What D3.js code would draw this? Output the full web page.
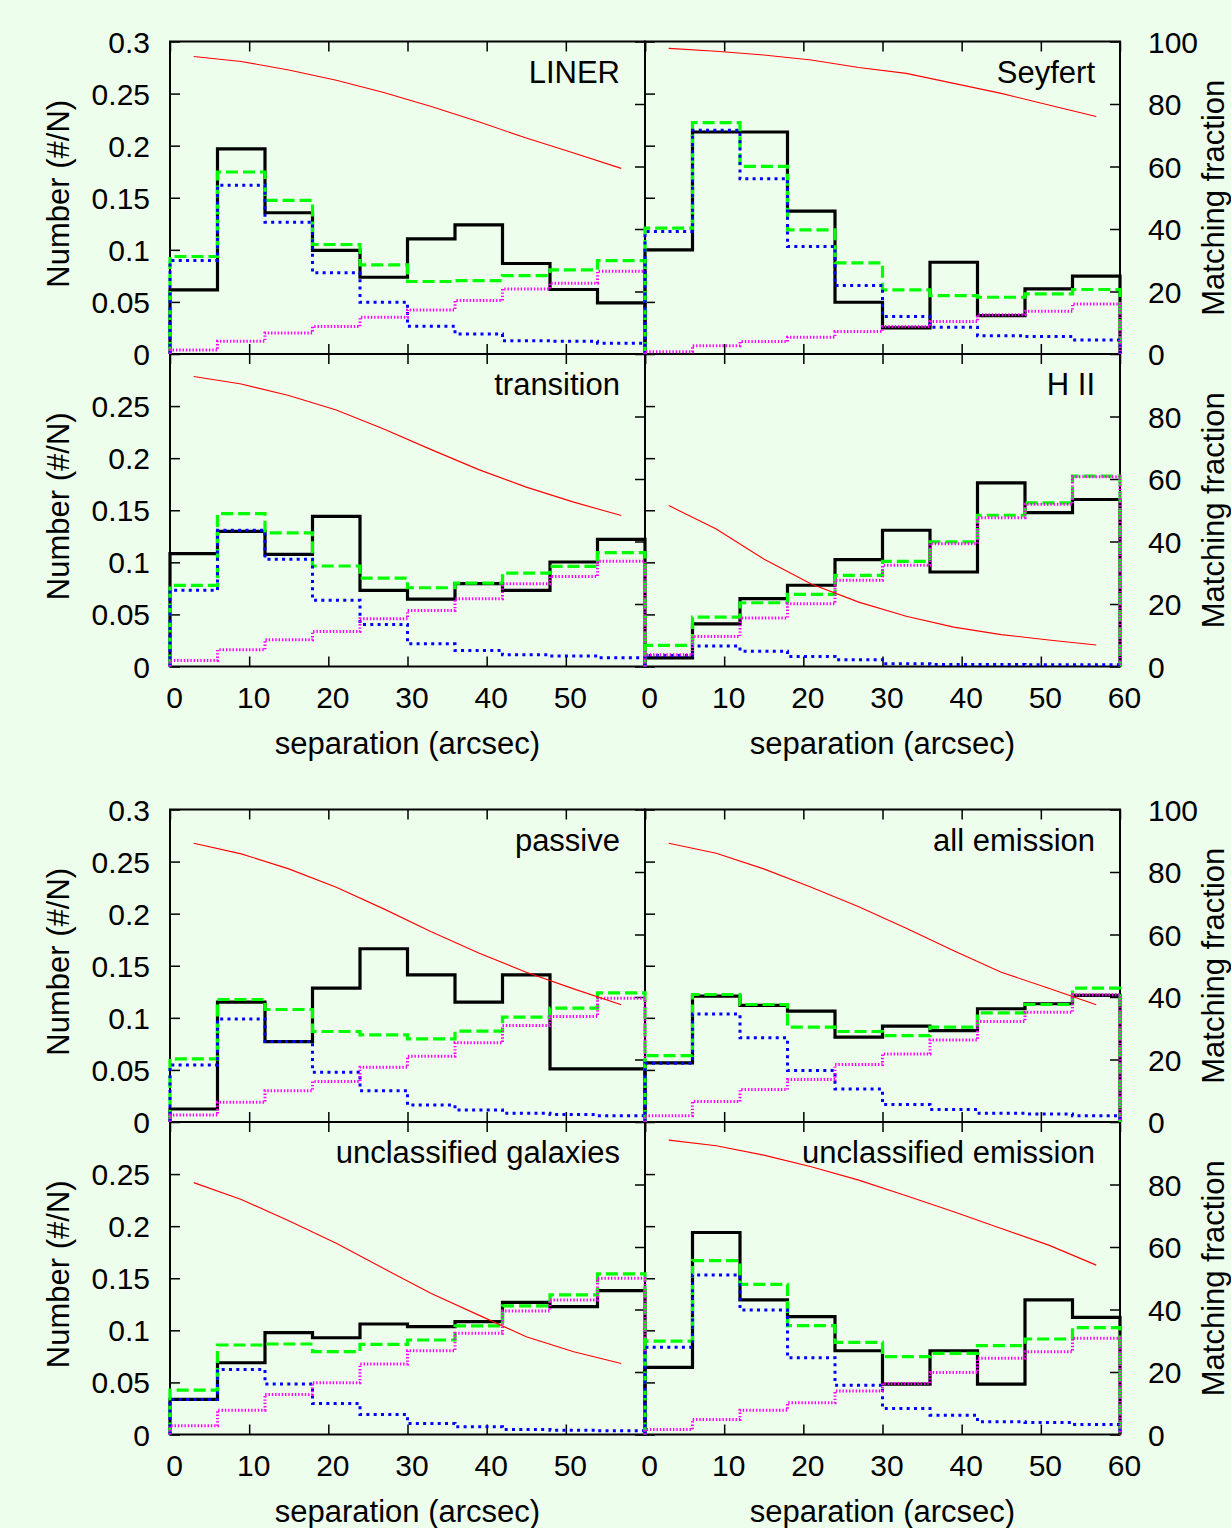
<!DOCTYPE html>
<html>
<head>
<meta charset="utf-8">
<script src="https://cdn.jsdelivr.net/npm/d3@7"></script>
<style>
  body { margin: 0; background: #edfeed; }
  svg text { font-family: "Liberation Sans", Arial, Helvetica, sans-serif; fill: #000; }
</style>
</head>
<body>
<script>
// panel titles, reading order: two blocks of 2x2 panels
var panelNames = ["LINER", "Seyfert", "transition", "H II",
                  "passive", "all emission", "unclassified galaxies", "unclassified emission"];

// histogram bins (arcsec) and the points of the matching fraction curve
var binEdges = [0, 6, 12, 18, 24, 30, 36, 42, 48, 54, 60];
var binCentres = [3, 9, 15, 21, 27, 33, 39, 45, 51, 57];

// tick values
var xTicks = [0, 10, 20, 30, 40, 50, 60];
var yTicksTop = [0, 0.05, 0.1, 0.15, 0.2, 0.25, 0.3];
var yTicksLower = [0, 0.05, 0.1, 0.15, 0.2, 0.25];
var fracTicksTop = [0, 20, 40, 60, 80, 100];
var fracTicksLower = [0, 20, 40, 60, 80];

// black solid histograms, one row per panel
var solidBlack = [
  [0.0615, 0.197, 0.1356, 0.0994, 0.0737, 0.1106, 0.124, 0.0869, 0.0619, 0.049],
  [0.1, 0.2131, 0.2131, 0.1372, 0.0497, 0.025, 0.0881, 0.0369, 0.0625, 0.0747],
  [0.1083, 0.1298, 0.1077, 0.1442, 0.0731, 0.0647, 0.0795, 0.0731, 0.1003, 0.1221],
  [0.0083, 0.041, 0.0651, 0.078, 0.1026, 0.1308, 0.0907, 0.1763, 0.1478, 0.1603],
  [0.0125, 0.1151, 0.0772, 0.1285, 0.1663, 0.1413, 0.1151, 0.1413, 0.051, 0.051],
  [0.0567, 0.1208, 0.1119, 0.1064, 0.0814, 0.092, 0.0878, 0.1087, 0.1135, 0.1215],
  [0.0337, 0.0689, 0.0978, 0.0929, 0.1061, 0.1035, 0.1083, 0.1269, 0.1228, 0.1381],
  [0.0644, 0.1939, 0.1292, 0.1131, 0.0804, 0.0484, 0.0804, 0.0484, 0.1292, 0.1125]
];

// green dashed
var dashedGreen = [
  [0.0936, 0.1747, 0.1474, 0.1051, 0.0856, 0.0696, 0.0705, 0.0753, 0.0808, 0.0897],
  [0.1208, 0.2221, 0.1801, 0.1192, 0.0875, 0.0615, 0.0561, 0.0545, 0.0577, 0.0619],
  [0.0779, 0.1468, 0.1282, 0.0965, 0.0849, 0.0756, 0.0801, 0.0897, 0.0962, 0.1093],
  [0.0202, 0.0474, 0.0612, 0.0692, 0.0875, 0.101, 0.1196, 0.1452, 0.157, 0.1827],
  [0.0606, 0.1176, 0.108, 0.0869, 0.0837, 0.0798, 0.0872, 0.1006, 0.1093, 0.124],
  [0.0638, 0.1224, 0.1128, 0.091, 0.0869, 0.083, 0.091, 0.1048, 0.1128, 0.1285],
  [0.0426, 0.0859, 0.0869, 0.0795, 0.0865, 0.0907, 0.1042, 0.1234, 0.134, 0.1542],
  [0.0897, 0.167, 0.1442, 0.1045, 0.0885, 0.0747, 0.0779, 0.0853, 0.0917, 0.1026]
];

// blue dotted
var dottedBlue = [
  [0.0897, 0.1619, 0.1266, 0.0779, 0.0497, 0.0266, 0.0192, 0.0128, 0.0122, 0.0103],
  [0.1176, 0.2147, 0.1683, 0.1032, 0.0657, 0.0359, 0.0256, 0.0176, 0.0167, 0.0135],
  [0.0731, 0.1308, 0.1029, 0.0635, 0.0404, 0.0218, 0.0154, 0.0112, 0.01, 0.0083],
  [0.0106, 0.0196, 0.0147, 0.0096, 0.0064, 0.0026, 0.002, 0.002, 0.0016, 0.0016],
  [0.0548, 0.099, 0.0772, 0.0478, 0.0301, 0.0163, 0.0115, 0.0083, 0.0071, 0.0061],
  [0.0564, 0.1038, 0.0808, 0.0494, 0.0317, 0.0167, 0.0119, 0.0083, 0.0077, 0.0061],
  [0.0337, 0.0625, 0.0484, 0.0298, 0.0192, 0.0106, 0.0074, 0.0048, 0.0042, 0.0035],
  [0.0837, 0.1532, 0.1196, 0.0737, 0.0474, 0.025, 0.0186, 0.0122, 0.0115, 0.0096]
];

// magenta fine dots
var dottedMagenta = [
  [0.0038, 0.0122, 0.0202, 0.0263, 0.0353, 0.0423, 0.0513, 0.0625, 0.068, 0.0795],
  [0.0022, 0.008, 0.0119, 0.016, 0.0215, 0.0263, 0.0311, 0.0378, 0.041, 0.0481],
  [0.0058, 0.016, 0.0256, 0.0337, 0.0458, 0.0538, 0.065, 0.0795, 0.0865, 0.101],
  [0.0112, 0.0288, 0.0465, 0.0603, 0.0827, 0.0971, 0.1179, 0.1429, 0.1558, 0.1821],
  [0.0067, 0.0189, 0.0301, 0.0388, 0.0526, 0.0631, 0.076, 0.0926, 0.1013, 0.1189],
  [0.0061, 0.0196, 0.0311, 0.0407, 0.0551, 0.0654, 0.0788, 0.0965, 0.1054, 0.1221],
  [0.0083, 0.0234, 0.0385, 0.0497, 0.0676, 0.0804, 0.0971, 0.1186, 0.1292, 0.15],
  [0.0048, 0.0144, 0.0234, 0.0304, 0.0417, 0.049, 0.0596, 0.0731, 0.0795, 0.0923]
];

// red thin line, matching fraction (%) on the right axis
var matchFraction = [
  [95.2, 93.6, 90.9, 87.6, 83.7, 79.2, 74.3, 69.1, 64.3, 59.4],
  [97.8, 96.9, 95.7, 94.1, 91.7, 89.8, 86.6, 83.4, 79.7, 76.0],
  [92.8, 90.4, 86.7, 82.1, 76.0, 69.4, 63.0, 57.4, 52.6, 48.3],
  [51.5, 44.0, 34.4, 26.4, 20.6, 16.1, 12.6, 10.2, 8.5, 6.9],
  [89.2, 85.8, 81.0, 75.1, 68.2, 60.9, 54.1, 47.9, 42.6, 37.5],
  [89.2, 86.0, 81.0, 75.1, 68.9, 62.0, 54.8, 47.9, 42.8, 37.5],
  [80.6, 75.2, 68.4, 61.2, 53.1, 45.1, 38.2, 31.3, 26.5, 22.7],
  [94.2, 92.4, 89.4, 85.7, 81.4, 76.4, 71.3, 65.9, 60.6, 54.2]
];

//chart set up
var svgWidth = 1231;
var svgHeight = 1528;
var panelW = 475;
var panelH = 312.5;
var left0 = 170;
var blockTop = [41.5, 809.5];
var tickFont = 30;
var labelFont = 31;

var svg = d3.select("body")
  .append("svg")
  .attr("width", svgWidth)
  .attr("height", svgHeight);

var x = d3.scaleLinear().domain([0, 60]).range([0, panelW]);
var y = d3.scaleLinear().domain([0, 0.3]).range([panelH, 0]);
var y2 = d3.scaleLinear().domain([0, 100]).range([panelH, 0]);

var fmt = d3.format(".2~f");
var blank = function() { return ""; };

// histogram as steps: up from 0 at x=0, across each bin, down to 0 at x=60
var histLine = d3.line()
  .x(function(d) { return x(d[0]); })
  .y(function(d) { return y(d[1]); })
  .curve(d3.curveStepAfter);

var fracLine = d3.line()
  .x(function(d) { return x(d[0]); })
  .y(function(d) { return y2(d[1]); });

function histPoints(vals) {
  var pts = [[binEdges[0], 0]];
  vals.forEach(function(v, k) { pts.push([binEdges[k], v]); });
  pts.push([binEdges[binEdges.length - 1], 0]);
  return pts;
}

function styleAxis(g) {
  g.select(".domain").remove();
  g.selectAll(".tick line").attr("stroke", "#000").attr("stroke-width", 1.5);
  g.attr("font-size", tickFont).attr("font-family", null);
}

var panels = panelNames.map(function(name, i) {
  var col = i % 2;
  var row = Math.floor(i / 2) % 2;
  var block = Math.floor(i / 4);
  return {name: name, i: i, col: col, row: row,
          px: left0 + col * panelW, py: blockTop[block] + row * panelH};
});

// Step 1: frames, ticks and labels
panels.forEach(function(p) {
  var g = svg.append("g").attr("transform", `translate(${p.px}, ${p.py})`);

  g.append("rect")
    .attr("width", panelW).attr("height", panelH)
    .attr("fill", "none").attr("stroke", "#000").attr("stroke-width", 2);

  var leftAxis = d3.axisLeft(y)
    .tickValues(p.row === 0 ? yTicksTop : yTicksLower)
    .tickSize(-10).tickPadding(20)
    .tickFormat(p.col === 0 ? fmt : blank);
  g.append("g").call(leftAxis).call(styleAxis)
    .selectAll("text").attr("dy", "0.35em");

  var rightAxis = d3.axisRight(y2)
    .tickValues(p.row === 0 ? fracTicksTop : fracTicksLower)
    .tickSize(-10).tickPadding(28)
    .tickFormat(p.col === 1 ? d3.format("d") : blank);
  g.append("g").attr("transform", `translate(${panelW}, 0)`)
    .call(rightAxis).call(styleAxis)
    .selectAll("text").attr("dy", "0.35em");

  var bottomAxis = d3.axisBottom(x)
    .tickValues(xTicks)
    .tickSize(-10).tickPadding(20)
    .tickFormat(function(d) {
      if (p.row !== 1) return "";
      if (p.col === 0 && d === 60) return "";
      return d;
    });
  g.append("g").attr("transform", `translate(0, ${panelH})`)
    .call(bottomAxis).call(styleAxis)
    .selectAll("text").attr("dx", 4);

  var topAxis = d3.axisTop(x).tickValues(xTicks).tickSize(-10).tickFormat(blank);
  g.append("g").call(topAxis).call(styleAxis);

  // panel title
  g.append("text")
    .attr("x", panelW - 25)
    .attr("y", 41)
    .attr("text-anchor", "end")
    .style("font-size", labelFont + "px")
    .text(p.name);

  // y labels
  if (p.col === 0) {
    g.append("text")
      .attr("transform", `translate(${69 - p.px}, ${panelH / 2 - 4}) rotate(-90)`)
      .attr("text-anchor", "middle")
      .style("font-size", labelFont + "px")
      .text("Number (#/N)");
  } else {
    g.append("text")
      .attr("transform", `translate(${1224 - p.px}, ${panelH / 2}) rotate(-90)`)
      .attr("text-anchor", "middle")
      .style("font-size", labelFont + "px")
      .text("Matching fraction");
  }

  // x label
  if (p.row === 1) {
    g.append("text")
      .attr("x", panelW / 2)
      .attr("y", panelH + 87)
      .attr("text-anchor", "middle")
      .style("font-size", labelFont + "px")
      .text("separation (arcsec)");
  }
});

// Step 2: the histograms and the matching fraction curve
var series = [
  {vals: solidBlack, color: "#000000", width: 3.2, dash: null},
  {vals: dashedGreen, color: "#00ff00", width: 3.2, dash: "12,5"},
  {vals: dottedBlue, color: "#0000ff", width: 3, dash: "3,4.3"},
  {vals: dottedMagenta, color: "#ff00ff", width: 3, dash: "1.4,1.9"}
];

panels.forEach(function(p) {
  var g = svg.append("g").attr("transform", `translate(${p.px}, ${p.py})`);

  series.forEach(function(s) {
    g.append("path")
      .attr("d", histLine(histPoints(s.vals[p.i])))
      .attr("fill", "none")
      .attr("stroke", s.color)
      .attr("stroke-width", s.width)
      .attr("stroke-dasharray", s.dash);
  });

  var pts = binCentres.map(function(c, k) { return [c, matchFraction[p.i][k]]; });
  g.append("path")
    .attr("d", fracLine(pts))
    .attr("fill", "none")
    .attr("stroke", "#ff0000")
    .attr("stroke-width", 1.1);
});
</script>
</body>
</html>
